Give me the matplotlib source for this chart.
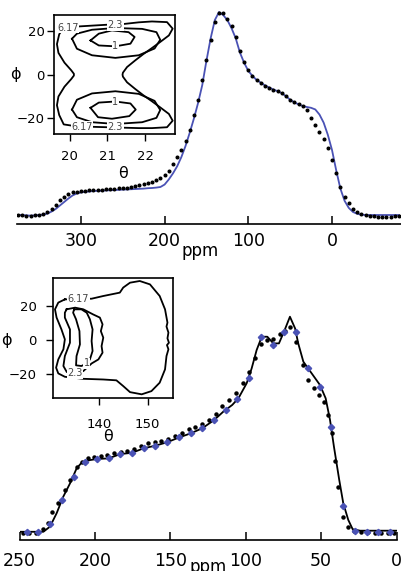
import numpy as np
import matplotlib
matplotlib.use("Agg")
import matplotlib.pyplot as plt

plt.rcParams['font.family'] = ['DejaVu Sans']

# ---------------- top spectrum (ppm, normalised intensity) ----------------
top_ppm = [375, 370, 365, 360, 355, 350, 345, 340, 335, 330, 325, 320, 315, 310, 305, 300,
           295, 290, 285, 280, 275, 270, 265, 260, 255, 250, 245, 240, 235, 230, 225, 220,
           215, 210, 205, 200, 195, 190, 185, 180, 175, 170, 165, 160, 155, 150, 145, 140,
           135, 130, 125, 120, 115, 110, 105, 100, 95, 90, 85, 80, 75, 70, 65, 60,
           55, 50, 45, 40, 35, 30, 25, 20, 15, 10, 5, 0, -5, -10, -15, -20,
           -25, -30, -35, -40, -45, -50, -55, -60, -65, -70, -75, -80]
top_exp = [0.000, -0.002, -0.005, -0.005, -0.002, 0.000, 0.005, 0.015, 0.030, 0.049, 0.074, 0.089,
           0.103, 0.111, 0.113, 0.118, 0.120, 0.121, 0.123, 0.124, 0.125, 0.126, 0.128, 0.130,
           0.131, 0.133, 0.135, 0.138, 0.142, 0.147, 0.152, 0.158, 0.165, 0.172, 0.182, 0.197,
           0.217, 0.251, 0.286, 0.320, 0.365, 0.419, 0.493, 0.567, 0.665, 0.764, 0.862, 0.951,
           0.995, 0.995, 0.966, 0.931, 0.877, 0.808, 0.754, 0.714, 0.685, 0.665, 0.650, 0.635,
           0.626, 0.616, 0.611, 0.601, 0.586, 0.567, 0.557, 0.547, 0.537, 0.517, 0.478, 0.443,
           0.409, 0.374, 0.330, 0.271, 0.207, 0.138, 0.089, 0.059, 0.030, 0.015, 0.005, -0.002,
           -0.005, -0.007, -0.010, -0.010, -0.010, -0.010, -0.007, -0.005]
top_sim = [0.000, 0.000, -0.002, -0.003, -0.002, 0.000, 0.002, 0.007, 0.017, 0.030, 0.047, 0.064,
           0.081, 0.096, 0.106, 0.111, 0.114, 0.116, 0.118, 0.119, 0.120, 0.121, 0.122, 0.123,
           0.124, 0.125, 0.126, 0.127, 0.128, 0.129, 0.130, 0.132, 0.133, 0.135, 0.138, 0.150,
           0.175, 0.205, 0.240, 0.285, 0.340, 0.405, 0.475, 0.552, 0.640, 0.760, 0.870, 0.960,
           1.000, 0.985, 0.960, 0.920, 0.870, 0.800, 0.750, 0.710, 0.685, 0.665, 0.652, 0.638,
           0.628, 0.618, 0.610, 0.600, 0.585, 0.568, 0.555, 0.545, 0.537, 0.532, 0.528, 0.520,
           0.495, 0.455, 0.395, 0.320, 0.220, 0.130, 0.070, 0.035, 0.015, 0.006, 0.002, 0.000,
           0.000, 0.000, 0.000, 0.000, 0.000, 0.000, 0.000, 0.000]
top_ticks = [300, 200, 100, 0]

# ---------------- bottom spectrum ----------------
bot_sim_ppm = [250.0, 234.3, 229.9, 225.5, 221.1, 216.6, 212.2, 208.9, 203.4, 198.8, 191.0, 183.2,
               175.4, 167.7, 159.9, 152.1, 144.3, 136.6, 128.8, 121.0, 114.9, 109.0, 104.9, 99.4,
               96.1, 92.8, 89.4, 85.7, 81.7, 78.0, 75.1, 73.3, 70.7, 67.3, 65.2, 61.8, 56.3,
               50.8, 47.0, 44.1, 41.5, 38.0, 35.3, 32.0, 29.1, 24.2, 0.0]
bot_sim = [0.001, 0.001, 0.025, 0.087, 0.164, 0.226, 0.296, 0.322, 0.334, 0.339, 0.342, 0.362,
           0.368, 0.389, 0.401, 0.417, 0.439, 0.458, 0.482, 0.520, 0.559, 0.590, 0.621, 0.691,
           0.760, 0.845, 0.907, 0.907, 0.876, 0.876, 0.923, 0.954, 1.000, 0.946, 0.876, 0.791,
           0.737, 0.683, 0.621, 0.520, 0.396, 0.242, 0.133, 0.056, 0.013, 0.006, 0.006]
bot_fit_ppm = [245.4, 237.6, 229.9, 222.1, 214.3, 206.5, 198.8, 191.0, 183.2, 175.4, 167.7, 159.9,
               152.1, 144.3, 136.6, 128.8, 121.0, 113.2, 105.5, 97.7, 89.9, 82.1, 74.4, 66.6,
               58.8, 51.0, 43.3, 35.5, 27.7, 19.9, 12.2, 4.4]
bot_fit = [0.001, 0.001, 0.035, 0.148, 0.257, 0.327, 0.339, 0.342, 0.362, 0.368, 0.389, 0.401,
           0.417, 0.439, 0.458, 0.482, 0.520, 0.567, 0.619, 0.717, 0.904, 0.869, 0.930, 0.928,
           0.760, 0.672, 0.486, 0.121, 0.006, 0.002, 0.001, 0.001]
bot_exp_ppm = [248.0, 243.5, 239.0, 234.3, 231.0, 228.8, 224.4, 219.9, 216.6, 212.2, 208.5, 205.0,
               200.5, 196.0, 192.0, 187.5, 183.0, 178.5, 174.0, 169.5, 165.0, 160.5, 156.0, 151.5,
               147.0, 142.5, 138.0, 133.5, 129.0, 124.5, 120.0, 115.5, 111.0, 106.5, 102.0, 98.0,
               94.0, 90.0, 86.0, 81.7, 77.5, 74.0, 70.7, 66.7, 62.2, 58.5, 55.0, 51.2, 47.8,
               45.2, 43.0, 40.8, 38.6, 35.3, 32.0, 28.0, 23.5, 19.0, 14.5, 10.0, 5.5, 1.5]
bot_exp = [-0.004, -0.004, -0.004, 0.014, 0.042, 0.094, 0.133, 0.195, 0.242, 0.303, 0.325, 0.342,
           0.350, 0.355, 0.358, 0.365, 0.370, 0.374, 0.384, 0.398, 0.412, 0.418, 0.423, 0.430,
           0.445, 0.462, 0.477, 0.487, 0.500, 0.520, 0.548, 0.585, 0.615, 0.645, 0.690, 0.745,
           0.810, 0.875, 0.892, 0.895, 0.918, 0.935, 0.954, 0.884, 0.776, 0.706, 0.667, 0.636,
           0.605, 0.545, 0.458, 0.330, 0.210, 0.071, 0.025, 0.005, 0.000, -0.002, -0.003, -0.003,
           -0.003, -0.003]
bot_ticks = [250, 200, 150, 100, 50, 0]

# ---------------- top inset contours (theta, phi) ----------------
ti_617_theta = [19.84, 20.22, 20.60, 20.99, 21.41, 21.83, 22.18, 22.58, 22.73, 22.63, 22.40, 22.18,
                21.95, 21.74, 21.52, 21.41, 21.40, 21.41, 21.52, 21.74, 21.95, 22.18, 22.40, 22.63,
                22.73, 22.58, 22.18, 21.83, 21.41, 20.99, 20.60, 20.22, 19.84, 19.72, 19.66, 19.70,
                19.86, 20.04, 20.11, 20.11, 20.04, 19.86, 19.70, 19.66, 19.72]
ti_617_phi = [21.8, 22.1, 22.5, 22.9, 23.2, 24.0, 24.4, 24.1, 21.1, 18.0, 15.0, 12.2,
              9.4, 6.6, 3.5, 0.9, 0.0, -0.9, -3.5, -6.6, -9.4, -12.2, -15.0, -18.0,
              -21.1, -24.1, -24.5, -24.5, -24.3, -24.1, -23.9, -23.8, -22.8, -18.5, -14.0, -10.0,
              -5.5, -2.0, -0.4, 0.4, 2.0, 5.5, 10.0, 14.0, 18.5]
ti_23u_theta = [20.06, 20.19, 20.59, 21.21, 21.83, 22.25, 22.40, 22.30, 21.92, 21.21, 20.59, 20.19]
ti_23u_phi = [16.5, 11.9, 8.9, 7.7, 8.9, 12.0, 16.0, 19.5, 21.0, 21.4, 20.6, 18.8]
ti_23l_theta = [20.06, 20.19, 20.59, 21.21, 21.83, 22.25, 22.40, 22.30, 21.92, 21.21, 20.59, 20.19]
ti_23l_phi = [-16.0, -11.5, -8.6, -7.6, -8.8, -12.0, -16.2, -19.8, -21.8, -22.6, -21.8, -19.5]
ti_1u_theta = [20.55, 20.77, 21.12, 21.56, 21.72, 21.61, 21.21, 20.77]
ti_1u_phi = [15.7, 18.8, 20.3, 19.5, 17.3, 14.2, 13.0, 13.4]
ti_1l_theta = [20.55, 20.77, 21.21, 21.61, 21.75, 21.58, 21.12, 20.75]
ti_1l_phi = [-15.2, -12.8, -12.3, -13.2, -16.0, -19.0, -20.2, -19.5]
ti_lab_theta = [19.96, 21.21, 21.21, 20.33, 21.21, 21.21]
ti_lab_phi = [21.4, 22.6, 13.2, -23.9, -23.9, -12.5]
ti_lab_text = ['6.17', '2.3', '1', '6.17', '2.3', '1']

# ---------------- bottom inset contours ----------------
bi_617_theta = [133.0, 131.65, 130.97, 131.3, 132.3, 133.0, 132.7, 131.65, 131.2, 131.65, 133.0, 136.8,
                140.9, 143.6, 145.0, 146.4, 148.8, 150.8, 152.5, 153.6, 153.9, 154.3, 154.0, 154.4,
                154.1, 154.3, 153.9, 154.1, 153.6, 152.5, 150.5, 148.4, 146.4, 145.0, 144.3, 140.9,
                138.5, 135.8]
bi_617_phi = [24.1, 22.2, 18.2, 13.3, 6.3, 0.4, -5.5, -11.5, -16.4, -19.8, -21.8, -23.0,
              -23.4, -23.9, -27.3, -30.9, -32.2, -30.3, -25.3, -17.4, -9.5, -5.5, -3.0, -1.6,
              1.0, 4.4, 8.0, 10.3, 18.2, 26.1, 33.0, 35.0, 34.0, 31.1, 28.1, 26.1,
              24.5, 24.3]
bi_23_theta = [133.36, 135.1, 136.8, 138.8, 140.2, 140.75, 140.4, 140.9, 140.55, 140.75, 139.9, 138.5,
               136.8, 135.1, 133.4, 132.7, 133.0, 134.05, 134.05, 133.0, 133.0]
bi_23_phi = [18.2, 19.2, 18.2, 15.2, 13.3, 9.3, 5.3, 1.4, -3.6, -7.5, -11.5, -13.9,
             -18.4, -19.8, -19.0, -15.4, -9.5, -1.6, 6.3, 13.3, 16.2]
bi_1_theta = [134.9, 136.4, 137.5, 138.15, 138.7, 138.5, 138.7, 138.15, 137.5, 136.4, 135.3, 135.4,
              136.1, 136.0, 135.3, 134.7]
bi_1_phi = [18.2, 18.2, 16.2, 12.3, 6.3, -0.6, -6.5, -11.5, -13.9, -15.4, -15.0, -9.5,
            -2.6, 5.3, 12.3, 16.2]
bi_lab_theta = [135.8, 135.1, 137.5]
bi_lab_phi = [24.2, -19.8, -13.9]
bi_lab_text = ['6.17', '2.3', '1']

BLUE = '#4a52b5'
W, H = 401, 571
fig = plt.figure(figsize=(W / 100, H / 100), dpi=100)


def rect(x0, y0, x1, y1):
    return [x0 / W, 1 - y1 / H, (x1 - x0) / W, (y1 - y0) / H]


def style_main(ax, ticks, pad):
    for s in ['left', 'right', 'top']:
        ax.spines[s].set_visible(False)
    ax.spines['bottom'].set_linewidth(1.2)
    ax.set_yticks([])
    ax.set_xticks(ticks)
    ax.tick_params(axis='x', direction='in', length=6, width=1.1, labelsize=12.5, pad=pad)
    ax.patch.set_alpha(0)


# top main
ax1 = fig.add_axes(rect(17, 5, 401, 224))
ax1.plot(top_ppm, top_sim, color=BLUE, lw=1.3, zorder=2)
ax1.plot(top_ppm, top_exp, ls='none', marker='o', ms=1.9, color='black', zorder=3)
ax1.set_xlim(376.3, -82.4)
ax1.set_ylim(-0.0443, 1.0345)
style_main(ax1, top_ticks, 5.5)

# bottom main
ax2 = fig.add_axes(rect(19.7, 300, 396.5, 540))
ax2.plot(bot_sim_ppm, bot_sim, color='black', lw=1.3, zorder=2)
ax2.plot(bot_exp_ppm, bot_exp, ls='none', marker='o', ms=2.2, color='black', zorder=3)
ax2.plot(bot_fit_ppm, bot_fit, ls='none', marker='D', ms=3.2, color=BLUE, zorder=4)
ax2.set_xlim(250, 0)
ax2.set_ylim(-0.0372, 1.0776)
style_main(ax2, bot_ticks, 8.5)

fig.text(200 / W, 1 - 256 / H, 'ppm', ha='center', va='baseline', fontsize=12)
fig.text(208 / W, 1 - 572 / H, 'ppm', ha='center', va='baseline', fontsize=12)


def closed(a):
    return list(a) + [a[0]]


def style_inset(ax, xt, yt, xpad, ypad):
    ax.set_xticks(xt)
    ax.set_yticks(yt)
    for s in ax.spines.values():
        s.set_linewidth(1.2)
    ax.tick_params(axis='both', direction='out', length=5, width=1.0, labelsize=9.5)
    ax.tick_params(axis='x', pad=xpad)
    ax.tick_params(axis='y', pad=ypad)


def clabel(ax, x, y, t):
    ax.text(x, y, t, fontsize=7, color='#444444', ha='center', va='center', zorder=5,
            bbox=dict(boxstyle='square,pad=0.05', fc='white', ec='none'))


# top inset
ia = fig.add_axes(rect(54.3, 14.7, 175.3, 134))
for th, ph in [(ti_617_theta, ti_617_phi), (ti_23u_theta, ti_23u_phi), (ti_23l_theta, ti_23l_phi),
               (ti_1u_theta, ti_1u_phi), (ti_1l_theta, ti_1l_phi)]:
    ia.plot(closed(th), closed(ph), color='black', lw=1.3)
for x, y, t in zip(ti_lab_theta, ti_lab_phi, ti_lab_text):
    clabel(ia, x, y, t)
ia.set_xlim(19.59, 22.80)
ia.set_ylim(-27.2, 27.5)
style_inset(ia, [20, 21, 22], [-20, 0, 20], 6.5, 1.8)

# bottom inset
ib = fig.add_axes(rect(52.7, 278.3, 173.3, 397.7))
for th, ph in [(bi_617_theta, bi_617_phi), (bi_23_theta, bi_23_phi), (bi_1_theta, bi_1_phi)]:
    ib.plot(closed(th), closed(ph), color='black', lw=1.3)
for x, y, t in zip(bi_lab_theta, bi_lab_phi, bi_lab_text):
    clabel(ib, x, y, t)
ib.set_xlim(130.5, 155.3)
ib.set_ylim(-34.2, 36.6)
style_inset(ib, [140, 150], [-20, 0, 20], 9.5, 6.5)

fig.text(123 / W, 1 - 173 / H, 'θ', ha='center', va='center', fontsize=11.5)
fig.text(15.8 / W, 1 - 74 / H, 'ϕ', ha='center', va='center', fontsize=11.5)
fig.text(108.3 / W, 1 - 436.7 / H, 'θ', ha='center', va='center', fontsize=11.5)
fig.text(6.7 / W, 1 - 341 / H, 'ϕ', ha='center', va='center', fontsize=11.5)

fig.savefig('out.png', dpi=100)
